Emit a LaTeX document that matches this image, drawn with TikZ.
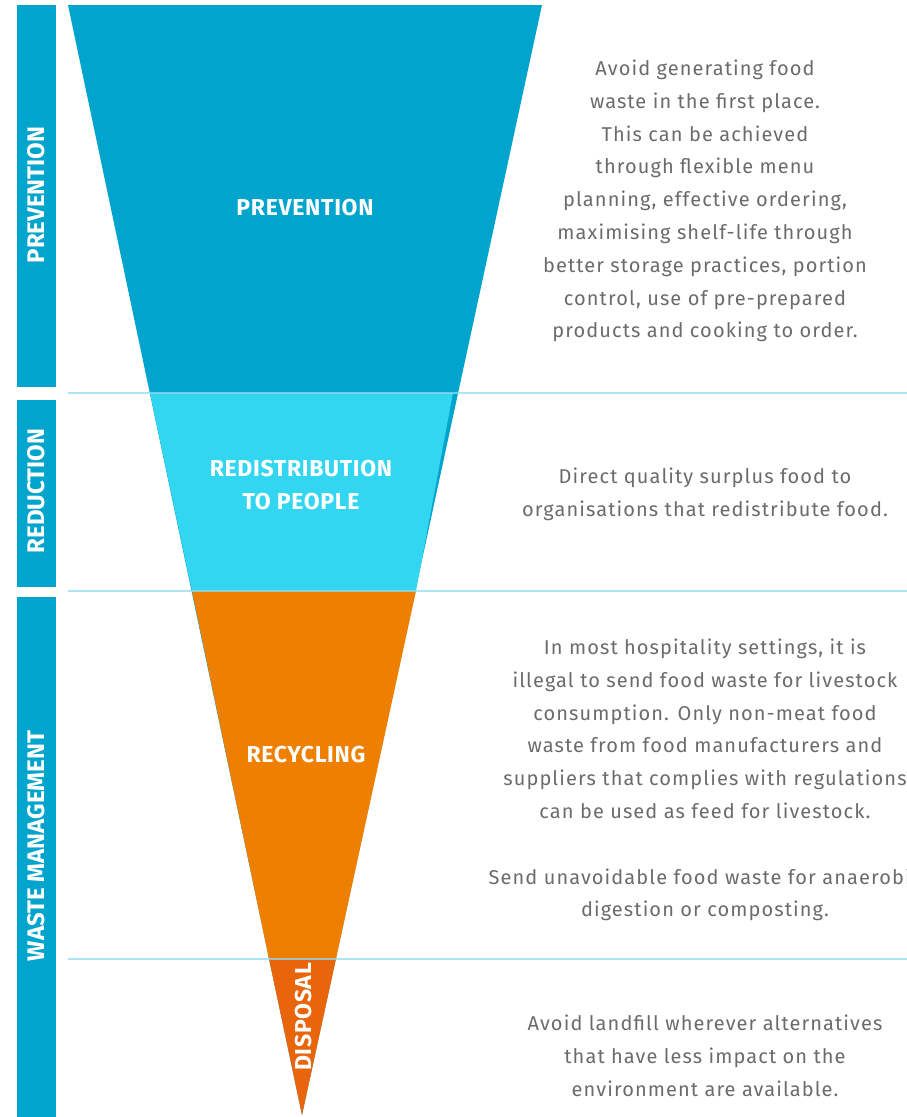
\documentclass[tikz,border=0pt]{standalone}
\usepackage{fontspec}
\setmainfont{Fira Sans}
\newfontfamily\bodyfont[LetterSpace=5.5]{Fira Sans}
\newfontfamily\labelfont[LetterSpace=3]{Fira Sans}
\usepackage{xcolor}
\definecolor{prevblue}{HTML}{00A4CC}
\definecolor{redcyan}{HTML}{33D6F0}
\definecolor{recorange}{HTML}{EE7F00}
\definecolor{disporange}{HTML}{E8650C}
\definecolor{rulelight}{HTML}{93DBF0}
\definecolor{bodygrey}{HTML}{6B6B6D}

\tikzset{
  bandlabel/.style = {text=white, align=center, font=\labelfont\fontsize{23}{33}\selectfont\bfseries},
  sidelabel/.style = {text=white, rotate=90, font=\fontsize{24}{26}\selectfont\bfseries},
  bodytext/.style = {text=bodygrey, align=center, font=\bodyfont\fontsize{20}{32.8}\selectfont},
}

\begin{document}
\begin{tikzpicture}[x=1pt, y=-1pt]
\useasboundingbox (0,0) rectangle (907,1117);
\clip (0,0) rectangle (907,1117);

\coordinate (tl) at (68,5);
\coordinate (tr) at (542,5);
\coordinate (tip) at (302,1115);

\coordinate (rl) at (150,393);
\coordinate (rr) at (453,393);
\coordinate (cl) at (192,591);
\coordinate (cr) at (416,591);
\coordinate (dl) at (269,959);
\coordinate (dr) at (336,959);

\fill[prevblue] (17,5) rectangle (56,387);
\fill[prevblue] (17,400) rectangle (56,587);
\fill[prevblue] (17,597) rectangle (56,1117);

\fill[prevblue] (tl)--(tr)--(tip)--cycle;
\fill[redcyan] (rl)--(rr)--(cr)--(cl)--cycle;
\fill[recorange] (cl)--(cr)--(dr)--(dl)--cycle;
\fill[disporange] (dl)--(dr)--(tip)--cycle;

\draw[rulelight, line width=2pt, opacity=0.75] (68,393)--(907,393);
\draw[rulelight, line width=2pt, opacity=0.75] (68,591)--(907,591);
\draw[rulelight, line width=2pt, opacity=0.75] (68,959)--(907,959);

\node[sidelabel] (side_prev) at (36,195) {PREVENTION};
\node[sidelabel] (side_red) at (36,491) {REDUCTION};
\node[sidelabel] (side_waste) at (36,846) {WASTE MANAGEMENT};

\node[bandlabel] (prev_l) at (305,208) {PREVENTION};
\node[bandlabel] (redis_l) at (301,485) {REDISTRIBUTION\\TO PEOPLE};
\node[bandlabel] (recyc_l) at (306,755) {RECYCLING};
\node[bandlabel, rotate=90] (disp_l) at (304,1017) {DISPOSAL};

\node[bodytext] (prev_t) at (705,201) {Avoid generating food\\waste in the first place.\\This can be achieved\\through flexible menu\\planning, effective ordering,\\maximising shelf-life through\\better storage practices, portion\\control, use of pre-prepared\\products and cooking to order.};
\node[bodytext] (redis_t) at (705,494) {Direct quality surplus food to\\organisations that redistribute food.};
\node[bodytext] (recyc_t) at (705,780) {In most hospitality settings, it is\\illegal to send food waste for livestock\\consumption. Only non-meat food\\waste from food manufacturers and\\suppliers that complies with regulations\\can be used as feed for livestock.\\[32.8pt]Send unavoidable food waste for anaerobic\\digestion or composting.};
\node[bodytext] (disp_t) at (705,1056) {Avoid landfill wherever alternatives\\that have less impact on the\\environment are available.};
\end{tikzpicture}
\end{document}
